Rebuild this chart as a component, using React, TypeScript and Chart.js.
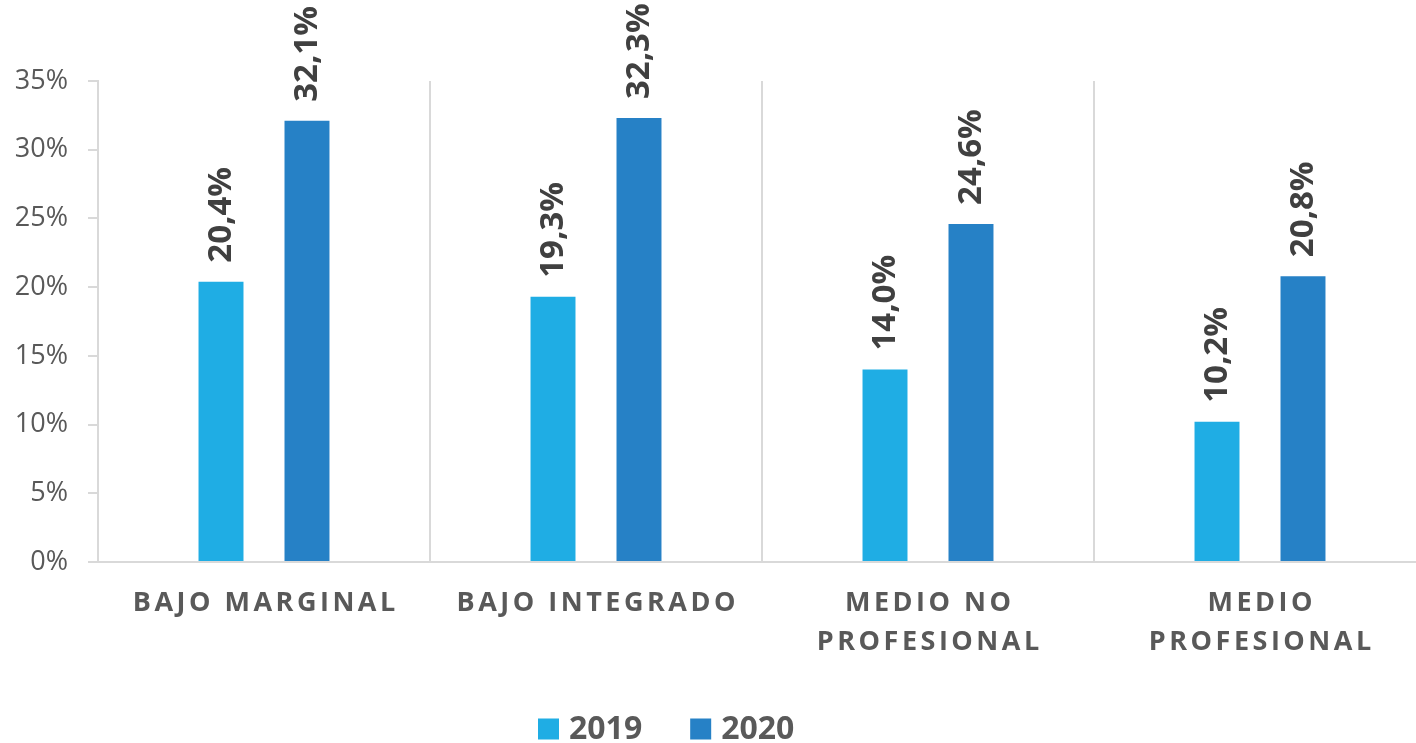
import React, { useEffect, useRef } from "react";
import { Chart, registerables } from "chart.js";

Chart.register(...registerables);

const categories = ["BAJO MARGINAL", "BAJO INTEGRADO", "MEDIO NO PROFESIONAL", "MEDIO PROFESIONAL"];
const categoryLines = [["BAJO MARGINAL"], ["BAJO INTEGRADO"], ["MEDIO NO", "PROFESIONAL"], ["MEDIO", "PROFESIONAL"]];
const seriesNames = ["2019", "2020"];
const values2019 = [20.4, 19.3, 14.0, 10.2];
const values2020 = [32.1, 32.3, 24.6, 20.8];
const seriesColors = ["#1FADE4", "#2681C6"];
const yMax = 35;
const yStep = 5;

const FONT = "'Open Sans', 'Noto Sans', sans-serif";

const fmt = (v: number) => v.toFixed(1).replace(".", ",") + "%";

const customDraw = {
  id: "customDraw",
  afterDatasetsDraw(chart: any) {
    const ctx = chart.ctx;
    chart.data.datasets.forEach((ds: any, di: number) => {
      const meta = chart.getDatasetMeta(di);
      meta.data.forEach((el: any, i: number) => {
        const v = ds.data[i];
        ctx.save();
        ctx.translate(el.x + 1, el.y - 19);
        ctx.rotate(-Math.PI / 2);
        ctx.font = `bold 33px ${FONT}`;
        ctx.fillStyle = "#404040";
        ctx.textAlign = "left";
        ctx.textBaseline = "middle";
        ctx.fillText(fmt(v), 0, 0);
        ctx.restore();
      });
    });
  },
  afterDraw(chart: any) {
    const ctx = chart.ctx;
    const xs = chart.scales.x;
    const bottom = chart.chartArea.bottom;
    ctx.save();
    ctx.font = `bold 27px ${FONT}`;
    ctx.fillStyle = "#595959";
    ctx.textAlign = "center";
    ctx.textBaseline = "middle";
    const ls = 3.5;
    (ctx as any).letterSpacing = ls + "px";
    categoryLines.forEach((lines, i) => {
      const cx = xs.getPixelForValue(i);
      lines.forEach((line, li) => {
        ctx.fillText(line, cx + ls / 2, bottom + 41 + li * 39.5);
      });
    });
    ctx.restore();
    ctx.save();
    ctx.font = `bold 32px ${FONT}`;
    ctx.textAlign = "left";
    ctx.textBaseline = "middle";
    let x = 538;
    const cy = 729;
    seriesNames.forEach((name, i) => {
      ctx.fillStyle = seriesColors[i];
      ctx.fillRect(x, cy - 10.5, 21, 21);
      x += 31;
      ctx.fillStyle = "#595959";
      ctx.fillText(name, x, cy + 1);
      x += ctx.measureText(name).width + 48;
    });
    ctx.restore();
  },
};

export default function App() {
  const ref = useRef<HTMLCanvasElement>(null);
  useEffect(() => {
    if (!ref.current) return;
    const chart = new Chart(ref.current, {
      type: "bar",
      data: {
        labels: categories,
        datasets: [
          { label: seriesNames[0], data: values2019, backgroundColor: seriesColors[0] },
          { label: seriesNames[1], data: values2020, backgroundColor: seriesColors[1] },
        ],
      },
      options: {
        responsive: false,
        animation: false,
        devicePixelRatio: 1,
        layout: { padding: { top: 81, left: 0, right: 0, bottom: 0 } },
        plugins: { legend: { display: false }, tooltip: { enabled: false } },
        datasets: { bar: { categoryPercentage: 0.518, barPercentage: 0.523 } },
        scales: {
          x: {
            offset: true,
            grid: { display: true, drawOnChartArea: true, drawTicks: false, color: "#D9D9D9", lineWidth: 2, offset: true },
            border: { display: true, color: "#D9D9D9", width: 2 },
            ticks: { display: false },
            afterFit: (s: any) => { s.height = 181; },
          },
          y: {
            min: 0,
            max: yMax,
            ticks: {
              stepSize: yStep,
              padding: 20,
              color: "#595959",
              font: { family: FONT, size: 27 },
              callback: (v: any) => v + "%",
            },
            grid: { drawOnChartArea: false, drawTicks: true, tickLength: 10, color: "#D9D9D9", lineWidth: 2 },
            border: { display: true, color: "#D9D9D9", width: 2 },
            afterFit: (s: any) => { s.width = 98; },
          },
        },
      },
      plugins: [customDraw],
    });
    return () => chart.destroy();
  }, []);
  return (
    <div style={{ position: "fixed", left: 0, top: 0, width: 1416, height: 743, overflow: "hidden", background: "#fff" }}>
      <canvas ref={ref} width={1426} height={743} style={{ display: "block", width: 1426, height: 743 }} />
    </div>
  );
}
